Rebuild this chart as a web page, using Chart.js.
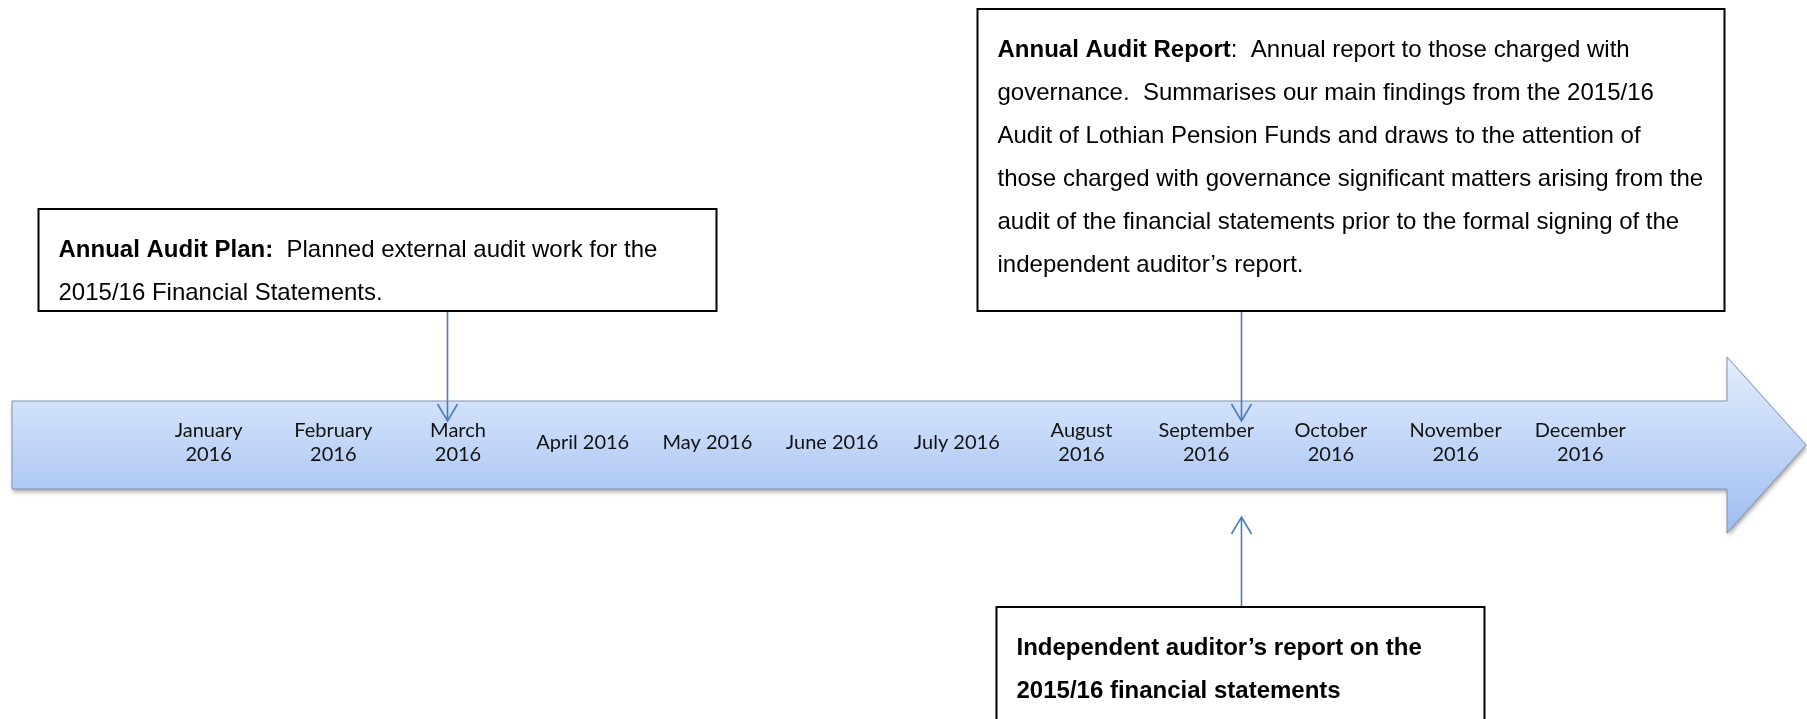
<!DOCTYPE html>
<html>
<head>
<meta charset="utf-8">
<script src="https://cdn.jsdelivr.net/npm/chart.js@4.4.1/dist/chart.umd.min.js"></script>
<style>
  html, body { margin: 0; padding: 0; background: #fff; }
  #wrap { width: 1807px; height: 719px; position: relative; }
</style>
</head>
<body>
<div id="wrap"><canvas id="timeline"></canvas></div>
<script>
// months along the arrow (index 0 = January)
const months = [
  ['January', '2016'], ['February', '2016'], ['March', '2016'],
  ['April 2016'], ['May 2016'], ['June 2016'], ['July 2016'],
  ['August', '2016'], ['September', '2016'], ['October', '2016'],
  ['November', '2016'], ['December', '2016']
];

// where each report lands on the timeline (month index)
const eventAt = [1.91, 8.28, 8.28];
const eventSide = ['above', 'above', 'below'];

// box text, line by line; each piece is [text, bold]
const eventText = [
  [
    [['Annual Audit Plan:', true], ['  Planned external audit work for the', false]],
    [['2015/16 Financial Statements.', false]]
  ],
  [
    [['Annual Audit Report', true], [':  Annual report to those charged with', false]],
    [['governance.  Summarises our main findings from the 2015/16', false]],
    [['Audit of Lothian Pension Funds and draws to the attention of', false]],
    [['those charged with governance significant matters arising from the', false]],
    [['audit of the financial statements prior to the formal signing of the', false]],
    [['independent auditor\u2019s report.', false]]
  ],
  [
    [['Independent auditor\u2019s report on the', true]],
    [['2015/16 financial statements', true]]
  ]
];

document.addEventListener('DOMContentLoaded', function() {

  // box geometry around each connector (px offsets from the connector line)
  const boxes = [
    { left: -409, right: 269, top: 209, bottom: 311 },
    { left: -264, right: 483, top: 9, bottom: 311 },
    { left: -245, right: 243, top: 607, bottom: 760 }
  ];

  const timelinePlugin = {
    id: 'timeline',
    beforeDatasetsDraw(chart) {
      const ctx = chart.ctx;
      const xs = chart.scales.x, ys = chart.scales.y;
      const area = chart.chartArea;
      const cy = ys.getPixelForValue(0);

      // --- the big arrow ---
      const left = area.left + 12, headX = area.right - 80, tip = area.right - 1;
      const bodyH = 44, headH = 88;
      const grad = ctx.createLinearGradient(0, cy - headH, 0, cy + headH);
      grad.addColorStop(0, '#e4eefd');
      grad.addColorStop(1, '#9dbdf2');
      ctx.save();
      ctx.beginPath();
      ctx.moveTo(left, cy - bodyH);
      ctx.lineTo(headX, cy - bodyH);
      ctx.lineTo(headX, cy - headH);
      ctx.lineTo(tip, cy);
      ctx.lineTo(headX, cy + headH);
      ctx.lineTo(headX, cy + bodyH);
      ctx.lineTo(left, cy + bodyH);
      ctx.closePath();
      ctx.shadowColor = 'rgba(0,0,0,0.35)';
      ctx.shadowOffsetX = 1;
      ctx.shadowOffsetY = 3;
      ctx.shadowBlur = 4;
      ctx.fillStyle = grad;
      ctx.fill();
      ctx.shadowColor = 'transparent';
      ctx.strokeStyle = '#8192ad';
      ctx.lineWidth = 1;
      ctx.stroke();
      ctx.restore();

      // --- month labels ---
      ctx.save();
      ctx.font = '20px Lato';
      ctx.fillStyle = '#111';
      ctx.textAlign = 'center';
      ctx.textBaseline = 'middle';
      const labelY = ys.getPixelForValue(2.5);
      const lh = 24.5;
      months.forEach(function(lines, i) {
        const px = xs.getPixelForValue(i);
        const y0 = labelY - (lines.length - 1) * lh / 2;
        lines.forEach(function(t, j) { ctx.fillText(t, px, y0 + j * lh); });
      });
      ctx.restore();
    },
    afterDatasetsDraw(chart) {
      const ctx = chart.ctx;
      const xs = chart.scales.x, ys = chart.scales.y;
      const cy = ys.getPixelForValue(0);

      eventAt.forEach(function(v, i) {
        const px = Math.round(xs.getPixelForValue(v)) + 0.5;
        const b = boxes[i];

        // connector with open arrow head
        let y0, y1;
        if (eventSide[i] === 'above') { y0 = b.bottom; y1 = cy - 24; }
        else { y0 = b.top; y1 = cy + 72; }
        const dir = y1 > y0 ? 1 : -1;
        ctx.save();
        ctx.strokeStyle = '#4a7ebb';
        ctx.lineWidth = 1.6;
        ctx.beginPath();
        ctx.moveTo(px, y0);
        ctx.lineTo(px, y1);
        ctx.moveTo(px - 10, y1 - dir * 17);
        ctx.lineTo(px, y1);
        ctx.lineTo(px + 10, y1 - dir * 17);
        ctx.stroke();
        ctx.restore();

        // text box
        const x0 = px + b.left, x1 = px + b.right;
        ctx.save();
        ctx.fillStyle = '#fff';
        ctx.fillRect(x0, b.top, x1 - x0, b.bottom - b.top);
        ctx.strokeStyle = '#000';
        ctx.lineWidth = 2;
        ctx.strokeRect(x0, b.top, x1 - x0, b.bottom - b.top);
        ctx.fillStyle = '#000';
        ctx.textBaseline = 'middle';
        ctx.textAlign = 'left';
        eventText[i].forEach(function(line, j) {
          let tx = x0 + 20;
          const ty = b.top + 41.5 + j * 43;
          line.forEach(function(seg) {
            ctx.font = (seg[1] ? 'bold ' : '') + '24px "Liberation Sans"';
            ctx.fillText(seg[0], tx, ty);
            tx += ctx.measureText(seg[0]).width;
          });
        });
        ctx.restore();
      });
    }
  };

  const ctx = document.getElementById('timeline').getContext('2d');
  new Chart(ctx, {
    type: 'scatter',
    data: {
      datasets: [{
        data: eventAt.map(function(v) { return { x: v, y: 0 }; }),
        pointRadius: 0,
        pointHoverRadius: 0
      }]
    },
    options: {
      responsive: true,
      maintainAspectRatio: false,
      animation: false,
      layout: { padding: 0 },
      events: [],
      scales: {
        x: { type: 'linear', min: -208.6 / 124.7, max: (1807 - 208.6) / 124.7, display: false },
        y: { type: 'linear', min: -274, max: 445, display: false }
      },
      plugins: {
        legend: { display: false },
        tooltip: { enabled: false }
      }
    },
    plugins: [timelinePlugin]
  });
});
</script>
</body>
</html>
